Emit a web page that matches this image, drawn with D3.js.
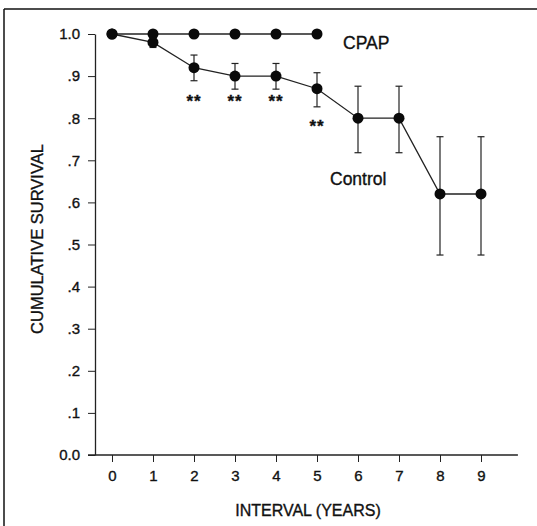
<!DOCTYPE html>
<html lang="en">
<head>
<meta charset="utf-8">
<title>Cumulative survival</title>
<script src="https://cdn.jsdelivr.net/npm/d3@7"></script>
<style>
  body { margin: 0; background: #fff; }
  svg text { font-family: Arial, "Liberation Sans", sans-serif; fill: #111; stroke: #111; stroke-width: 0.35px; }
</style>
</head>
<body>
<script>
// Data
var years = [0, 1, 2, 3, 4, 5, 6, 7, 8, 9];
var cpapYears = [0, 1, 2, 3, 4, 5];
var cpapSurvival = [1.0, 1.0, 1.0, 1.0, 1.0, 1.0];
var controlSurvival = [1.0, 0.98, 0.92, 0.90, 0.90, 0.87, 0.80, 0.80, 0.62, 0.62];
var controlLow = [null, 0.968, 0.889, 0.869, 0.869, 0.827, 0.718, 0.718, 0.475, 0.475];
var controlHigh = [null, 0.99, 0.950, 0.930, 0.930, 0.908, 0.876, 0.876, 0.756, 0.756];
var starYears = [2, 3, 4, 5];
var starLevel = [0.851, 0.851, 0.851, 0.792];
var yTicks = [0, 0.1, 0.2, 0.3, 0.4, 0.5, 0.6, 0.7, 0.8, 0.9, 1.0];
var yTickLabels = ["0.0", ".1", ".2", ".3", ".4", ".5", ".6", ".7", ".8", ".9", "1.0"];

var w = 537, h = 526;
var svg = d3.select("body").append("svg")
    .attr("width", w)
    .attr("height", h);

// frame (top and left edges visible in the scan)
svg.append("line").attr("x1", 4).attr("x2", w).attr("y1", 9).attr("y2", 9)
    .attr("stroke", "#111").attr("stroke-width", 1.5);
svg.append("line").attr("x1", 4).attr("x2", 4).attr("y1", 9).attr("y2", h)
    .attr("stroke", "#111").attr("stroke-width", 1.5);

var x = d3.scaleLinear().domain([0, 9]).range([112, 481]);
var y = d3.scaleLinear().domain([0, 1]).range([455, 34]);

// y axis
var yAxis = d3.axisLeft(y)
    .tickValues(yTicks)
    .tickFormat(function(d, i) { return yTickLabels[i]; })
    .tickSize(7)
    .tickSizeOuter(0)
    .tickPadding(8);
var gy = svg.append("g").attr("transform", "translate(95,0)").call(yAxis);
gy.select(".domain").attr("stroke", "#222").attr("stroke-width", 1.3);
gy.selectAll(".tick line").attr("stroke", "#222");
gy.selectAll(".tick text").attr("font-size", 15).attr("fill", "#111");

// x axis
var xAxis = d3.axisBottom(x)
    .tickValues(years)
    .tickSize(7)
    .tickSizeOuter(0)
    .tickPadding(8);
var gx = svg.append("g").attr("transform", "translate(0,455)").call(xAxis);
gx.select(".domain").remove();
gx.append("line")
    .attr("x1", 88).attr("x2", x(9.9))
    .attr("stroke", "#222").attr("stroke-width", 1.3);
gx.selectAll(".tick line").attr("stroke", "#222");
gx.selectAll(".tick text").attr("font-size", 15).attr("fill", "#111");

// axis titles
svg.append("text")
    .attr("x", 308).attr("y", 516)
    .attr("text-anchor", "middle")
    .attr("font-size", 16)
    .text("INTERVAL (YEARS)");
svg.append("text")
    .attr("transform", "translate(43,239) rotate(-90)")
    .attr("text-anchor", "middle")
    .attr("font-size", 16.5)
    .text("CUMULATIVE SURVIVAL");

var line = d3.line()
    .x(function(d) { return x(d[0]); })
    .y(function(d) { return y(d[1]); });

var control = years.map(function(d, i) {
    return { year: d, s: controlSurvival[i], lo: controlLow[i], hi: controlHigh[i] };
});
var cpap = cpapYears.map(function(d, i) { return { year: d, s: cpapSurvival[i] }; });

// error bars
var bars = svg.append("g").selectAll("g")
    .data(control.filter(function(d) { return d.lo != null; }))
    .enter().append("g")
    .attr("stroke", "#222").attr("stroke-width", 1.2);
bars.append("line")
    .attr("x1", function(d) { return x(d.year); })
    .attr("x2", function(d) { return x(d.year); })
    .attr("y1", function(d) { return y(d.lo); })
    .attr("y2", function(d) { return y(d.hi); });
bars.append("line")
    .attr("x1", function(d) { return x(d.year) - 3.5; })
    .attr("x2", function(d) { return x(d.year) + 3.5; })
    .attr("y1", function(d) { return y(d.hi); })
    .attr("y2", function(d) { return y(d.hi); });
bars.append("line")
    .attr("x1", function(d) { return x(d.year) - 3.5; })
    .attr("x2", function(d) { return x(d.year) + 3.5; })
    .attr("y1", function(d) { return y(d.lo); })
    .attr("y2", function(d) { return y(d.lo); });

// lines
svg.append("path")
    .datum(control.map(function(d) { return [d.year, d.s]; }))
    .attr("d", line)
    .attr("fill", "none").attr("stroke", "#222").attr("stroke-width", 1.3);
svg.append("path")
    .datum(cpap.map(function(d) { return [d.year, d.s]; }))
    .attr("d", line)
    .attr("fill", "none").attr("stroke", "#222").attr("stroke-width", 1.3);

// markers
svg.append("g").selectAll("circle")
    .data(control)
    .enter().append("circle")
    .attr("cx", function(d) { return x(d.year); })
    .attr("cy", function(d) { return y(d.s); })
    .attr("r", 5.5)
    .attr("fill", "#0a0a0a");
svg.append("g").selectAll("circle")
    .data(cpap)
    .enter().append("circle")
    .attr("cx", function(d) { return x(d.year); })
    .attr("cy", function(d) { return y(d.s); })
    .attr("r", 5.5)
    .attr("fill", "#0a0a0a");

// significance stars
svg.append("g").selectAll("text")
    .data(starYears)
    .enter().append("text")
    .attr("x", function(d) { return x(d); })
    .attr("y", function(d, i) { return y(starLevel[i]) + 10; })
    .attr("text-anchor", "middle")
    .attr("font-size", 17)
    .attr("font-weight", "bold")
    .attr("letter-spacing", 1)
    .text("**");

// series labels
svg.append("text")
    .attr("x", 343).attr("y", 49)
    .attr("font-size", 17.5)
    .text("CPAP");
svg.append("text")
    .attr("x", 330).attr("y", 185)
    .attr("font-size", 17.5)
    .text("Control");
</script>
</body>
</html>
